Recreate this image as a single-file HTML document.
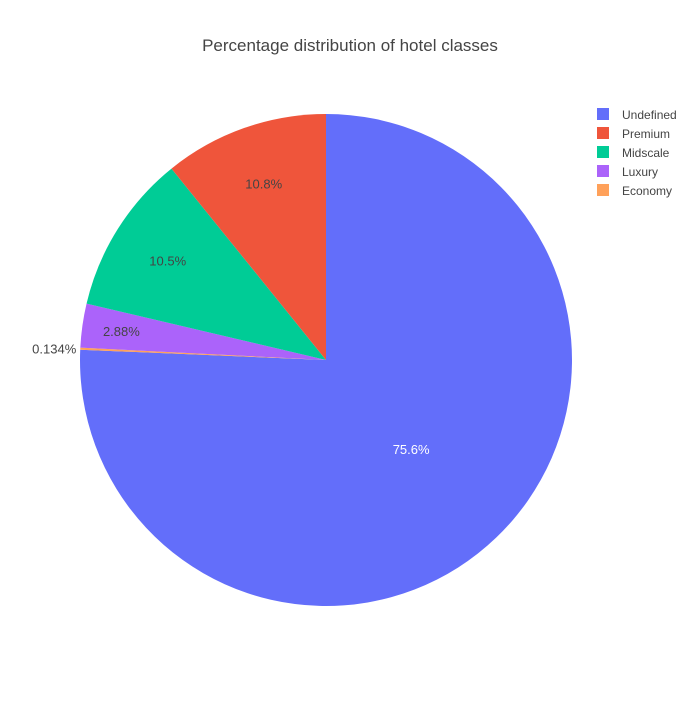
<!DOCTYPE html>
<html><head><meta charset="utf-8"><style>
body{margin:0;background:#fff;font-family:"Liberation Sans",Arial,sans-serif}
</style></head><body>
<svg id="chart" width="700" height="700">
<text x="350" y="51" text-anchor="middle" font-size="17" fill="#444">Percentage distribution of hotel classes</text>
<g id="slices"></g>
<g id="legend"></g>
</svg>
<script>
const labels = ["Undefined","Economy","Luxury","Midscale","Premium"];
const values = [75.6, 0.134, 2.88, 10.5, 10.8];
const textLabels = ["75.6%","0.134%","2.88%","10.5%","10.8%"];
const colors = {"Undefined":"#636efa","Premium":"#ef553b","Midscale":"#00cc96","Luxury":"#ab63fa","Economy":"#ffa15a"};
const legendOrder = ["Undefined","Premium","Midscale","Luxury","Economy"];
const NS="http://www.w3.org/2000/svg";
const cx=326, cy=360, r=246;
const total=values.reduce((a,b)=>a+b,0);
const g=document.getElementById('slices');
function pt(a,rad){return [cx+rad*Math.sin(a), cy-rad*Math.cos(a)];}
let acc=0;
values.forEach((v,i)=>{
  const a0=acc/total*2*Math.PI; acc+=v; const a1=acc/total*2*Math.PI;
  const p0=pt(a0,r), p1=pt(a1,r);
  const large=(a1-a0)>Math.PI?1:0;
  const p=document.createElementNS(NS,'path');
  p.setAttribute('d',`M${cx},${cy}L${p0[0]},${p0[1]}A${r},${r} 0 ${large} 1 ${p1[0]},${p1[1]}Z`);
  p.setAttribute('fill',colors[labels[i]]);
  
  
  g.appendChild(p);
  const frac=v/total, am=(a0+a1)/2;
  const t=document.createElementNS(NS,'text');
  t.setAttribute('font-size','13');
  if(frac<0.01){
    const q=pt(am,r);
    t.setAttribute('x',q[0]-4); t.setAttribute('y',q[1]+5);
    t.setAttribute('text-anchor','end'); t.setAttribute('fill','#444');
  } else {
    const f=frac>0.5?0.5:(frac<0.05?0.84:0.76);
    const q=pt(am,r*f);
    t.setAttribute('x',q[0]); t.setAttribute('y',q[1]+5);
    t.setAttribute('text-anchor','middle'); t.setAttribute('fill',frac>0.5?'#fff':'#444');
  }
  t.textContent=textLabels[i];
  
  
  g.appendChild(t);
});
const lg=document.getElementById('legend');
legendOrder.forEach((l,i)=>{
  const y=114+i*19;
  const rc=document.createElementNS(NS,'rect');
  rc.setAttribute('x',597); rc.setAttribute('y',y-6); rc.setAttribute('width',12); rc.setAttribute('height',12);
  rc.setAttribute('fill',colors[l]);
  
  
  lg.appendChild(rc);
  const t=document.createElementNS(NS,'text');
  t.setAttribute('x',622); t.setAttribute('y',y+5); t.setAttribute('font-size','12'); t.setAttribute('fill','#444');
  t.textContent=l;
  
  
  lg.appendChild(t);
});
</script>
</body></html>
